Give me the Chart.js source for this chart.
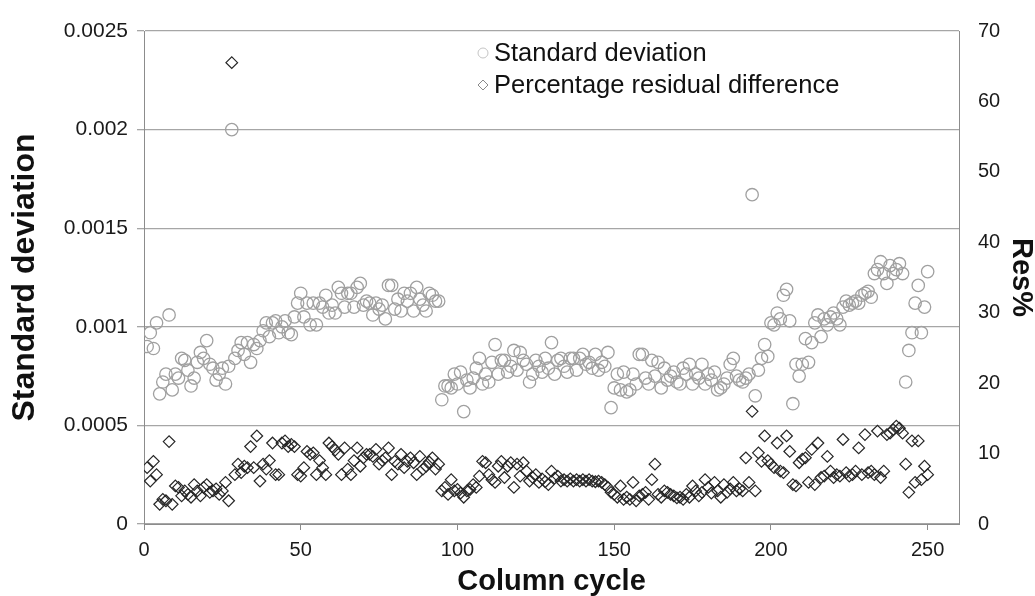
<!DOCTYPE html>
<html>
<head>
<meta charset="utf-8">
<script src="https://cdn.jsdelivr.net/npm/chart.js@4"></script>
<style>
  html,body{margin:0;padding:0;background:#fff;}
  #wrap{width:1035px;height:596px;position:relative;}
</style>
</head>
<body>
<div id="wrap"><canvas id="scatter"></canvas></div>
<script>
// column cycle index for every measurement
const cycles = Array.from({length: 250}, (_, i) => i + 1);

// standard deviation per cycle (left axis)
const sdValues = [
  0.00090,0.00097,0.00089,0.00102,0.00066,0.00072,0.00076,0.00106,0.00068,0.00076,
  0.00074,0.00084,0.00083,0.00078,0.00070,0.00074,0.00082,0.00087,0.00084,0.00093,
  0.00081,0.00079,0.00073,0.00076,0.00079,0.00071,0.00080,0.00200,0.00084,0.00088,
  0.00092,0.00086,0.00092,0.00082,0.00091,0.00089,0.00093,0.00098,0.00102,0.00095,
  0.00102,0.00103,0.00097,0.00100,0.00103,0.00097,0.00096,0.00105,0.00112,0.00117,
  0.00105,0.00112,0.00101,0.00112,0.00101,0.00112,0.00110,0.00116,0.00107,0.00111,
  0.00107,0.00120,0.00117,0.00110,0.00117,0.00117,0.00110,0.00120,0.00122,0.00111,
  0.00113,0.00112,0.00106,0.00112,0.00109,0.00111,0.00104,0.00121,0.00121,0.00109,
  0.00114,0.00108,0.00117,0.00113,0.00117,0.00108,0.00120,0.00114,0.00111,0.00108,
  0.00117,0.00116,0.00113,0.00113,0.00063,0.00070,0.00070,0.00069,0.00076,0.00071,
  0.00077,0.00057,0.00073,0.00069,0.00074,0.00079,0.00084,0.00071,0.00076,0.00072,
  0.00082,0.00091,0.00076,0.00083,0.00083,0.00077,0.00080,0.00088,0.00078,0.00087,
  0.00083,0.00081,0.00072,0.00076,0.00083,0.00080,0.00077,0.00084,0.00079,0.00092,
  0.00076,0.00083,0.00084,0.00080,0.00077,0.00084,0.00084,0.00078,0.00084,0.00086,
  0.00081,0.00082,0.00079,0.00086,0.00078,0.00082,0.00080,0.00087,0.00059,0.00069,
  0.00076,0.00068,0.00077,0.00067,0.00068,0.00076,0.00071,0.00086,0.00086,0.00074,
  0.00071,0.00083,0.00075,0.00082,0.00069,0.00079,0.00073,0.00075,0.00077,0.00072,
  0.00071,0.00079,0.00076,0.00081,0.00071,0.00076,0.00074,0.00081,0.00071,0.00076,
  0.00073,0.00077,0.00068,0.00069,0.00071,0.00074,0.00081,0.00084,0.00075,0.00073,
  0.00072,0.00074,0.00076,0.00167,0.00065,0.00078,0.00084,0.00091,0.00085,0.00102,
  0.00101,0.00107,0.00104,0.00116,0.00119,0.00103,0.00061,0.00081,0.00075,0.00081,
  0.00094,0.00082,0.00092,0.00102,0.00106,0.00095,0.00104,0.00101,0.00105,0.00107,
  0.00104,0.00101,0.00110,0.00113,0.00111,0.00112,0.00113,0.00112,0.00116,0.00117,
  0.00118,0.00115,0.00127,0.00129,0.00133,0.00127,0.00122,0.00131,0.00127,0.00129,
  0.00132,0.00127,0.00072,0.00088,0.00097,0.00112,0.00121,0.00097,0.00110,0.00128
];

// percentage residual difference per cycle (right axis, %)
const resValues = [
  8.0,6.1,8.9,7.0,2.8,3.5,3.3,11.7,2.8,5.4,
  5.2,4.0,4.7,4.2,3.8,5.6,4.7,4.0,5.2,5.6,
  4.5,4.7,5.0,4.2,4.7,5.9,3.3,65.5,7.0,8.5,
  7.3,8.2,8.0,11.0,8.0,12.5,6.1,8.5,7.8,9.0,
  11.5,7.0,7.0,11.5,11.8,11.0,11.3,11.0,7.0,6.8,
  8.0,10.3,9.9,10.1,7.0,9.0,8.0,7.0,11.5,11.0,
  10.5,9.9,7.0,10.8,7.8,7.0,9.0,10.8,8.2,9.4,
  9.9,9.9,9.6,10.6,8.5,9.0,9.4,10.8,7.0,8.9,
  8.5,9.9,8.0,8.9,9.4,8.7,7.0,9.6,7.8,8.2,
  8.8,9.4,7.8,8.5,4.7,5.2,4.2,6.3,4.7,4.9,
  4.4,3.8,4.7,4.9,5.6,5.2,6.8,8.9,8.7,7.0,
  6.3,5.9,8.2,8.9,6.6,8.2,8.7,5.2,8.5,6.8,
  8.7,7.5,6.1,6.6,7.0,5.9,6.4,6.0,5.6,7.5,
  6.5,6.8,6.1,6.3,6.1,6.4,6.1,6.3,6.1,6.3,
  6.1,6.3,6.1,6.0,6.1,5.9,5.6,5.2,4.5,4.2,
  3.8,5.4,3.5,3.8,3.5,5.9,3.3,4.0,4.2,4.5,
  3.5,6.3,8.5,4.2,3.8,4.7,4.5,4.2,4.0,3.7,
  3.8,3.5,4.2,3.8,5.4,4.7,4.0,4.5,6.3,5.2,
  4.4,5.9,4.7,3.8,5.6,4.5,5.0,5.9,4.7,5.0,
  4.7,9.4,5.9,16.0,4.7,10.1,8.9,12.5,9.0,8.5,
  8.0,11.5,7.5,7.3,12.5,10.3,5.6,5.4,8.7,9.2,
  9.4,5.9,10.6,5.6,11.5,6.6,6.8,9.6,7.5,6.6,
  7.0,6.8,12.0,7.3,6.8,7.0,7.5,10.8,7.0,12.7,
  7.3,7.5,7.0,13.2,6.6,7.5,12.7,12.9,13.4,13.9,
  13.6,12.9,8.5,4.5,11.8,5.9,11.8,6.3,8.2,7.0
];

const xTicks = [0, 50, 100, 150, 200, 250];
const sdTicks = [0, 0.0005, 0.001, 0.0015, 0.002, 0.0025];
const resTicks = [0, 10, 20, 30, 40, 50, 60, 70];

const FONT = '"Liberation Sans", Arial, sans-serif';
const AXIS_GREY = '#8c8c8c';

// legend sits inside the plot, drawn by hand
const insideLegend = {
  id: 'insideLegend',
  afterDraw(chart){
    const c = chart.ctx;
    const items = chart.data.datasets;
    c.save();
    c.font = '25.5px ' + FONT;
    c.textBaseline = 'middle';
    items.forEach((ds, i) => {
      const y = 53 + i * 32;
      const mx = 483;
      c.lineWidth = 1;
      c.strokeStyle = i === 0 ? '#c4c4c4' : '#8a8a8a';
      c.beginPath();
      if(ds.pointStyle === 'circle'){
        c.arc(mx, y, 5, 0, Math.PI * 2);
      } else {
        c.moveTo(mx, y - 5); c.lineTo(mx + 5, y); c.lineTo(mx, y + 5); c.lineTo(mx - 5, y); c.closePath();
      }
      c.stroke();
      c.fillStyle = '#111';
      c.fillText(ds.label, mx + 11, y + 1);
    });
    c.restore();
  }
};

const ctx = document.getElementById('scatter').getContext('2d');
new Chart(ctx, {
  type: 'scatter',
  data: {
    datasets: [{
      label: 'Standard deviation',
      data: cycles.map((c, i) => ({x: c, y: sdValues[i]})),
      yAxisID: 'y',
      pointStyle: 'circle',
      pointRadius: 6.2,
      borderColor: '#a0a0a0',
      backgroundColor: 'rgba(0,0,0,0)',
      borderWidth: 1.3
    }, {
      label: 'Percentage residual difference',
      data: cycles.map((c, i) => ({x: c, y: resValues[i]})),
      yAxisID: 'y2',
      pointStyle: 'rectRot',
      pointRadius: 5.8,
      borderColor: '#262626',
      backgroundColor: 'rgba(0,0,0,0)',
      borderWidth: 1.2
    }]
  },
  options: {
    responsive: true,
    maintainAspectRatio: false,
    animation: false,
    layout: {padding: {top: 24, right: 0, left: 0, bottom: 0}},
    plugins: {legend: {display: false}, tooltip: {enabled: false}},
    scales: {
      x: {
        type: 'linear', min: 0, max: 260,
        afterBuildTicks(s){ s.ticks = xTicks.map(v => ({value: v})); },
        afterFit(s){ s.height = 72; },
        grid: {drawOnChartArea: false, drawTicks: true, tickLength: 6, color: AXIS_GREY},
        border: {color: AXIS_GREY},
        ticks: {color: '#1a1a1a', font: {family: FONT, size: 20}, padding: 8, maxRotation: 0},
        title: {display: true, text: 'Column cycle', color: '#111', font: {family: FONT, size: 29, weight: 'bold', lineHeight: 1}, padding: 0}
      },
      y: {
        position: 'left', min: 0, max: 0.0025,
        afterBuildTicks(s){ s.ticks = sdTicks.map(v => ({value: v})); },
        afterFit(s){ s.width = 144; },
        grid: {color: '#a6a6a6', lineWidth: 1.3, drawTicks: true, tickLength: 7},
        border: {color: AXIS_GREY},
        ticks: {color: '#1a1a1a', font: {family: FONT, size: 21}, padding: 9,
          callback: v => String(+v.toFixed(4))},
        title: {display: true, text: 'Standard deviation', color: '#111', font: {family: FONT, size: 32, weight: 'bold', lineHeight: 1}, padding: {top: 9, bottom: 0}}
      },
      y2: {
        position: 'right', min: 0, max: 70,
        afterBuildTicks(s){ s.ticks = resTicks.map(v => ({value: v})); },
        afterFit(s){ s.width = 76; },
        grid: {drawOnChartArea: false, drawTicks: false},
        border: {color: AXIS_GREY},
        ticks: {color: '#1a1a1a', font: {family: FONT, size: 20}, padding: 19},
        title: {display: true, text: 'Res%', color: '#111', font: {family: FONT, size: 29, weight: 'bold', lineHeight: 1}, padding: {top: 0, bottom: 0}}
      }
    }
  },
  plugins: [insideLegend]
});
</script>
</body>
</html>
